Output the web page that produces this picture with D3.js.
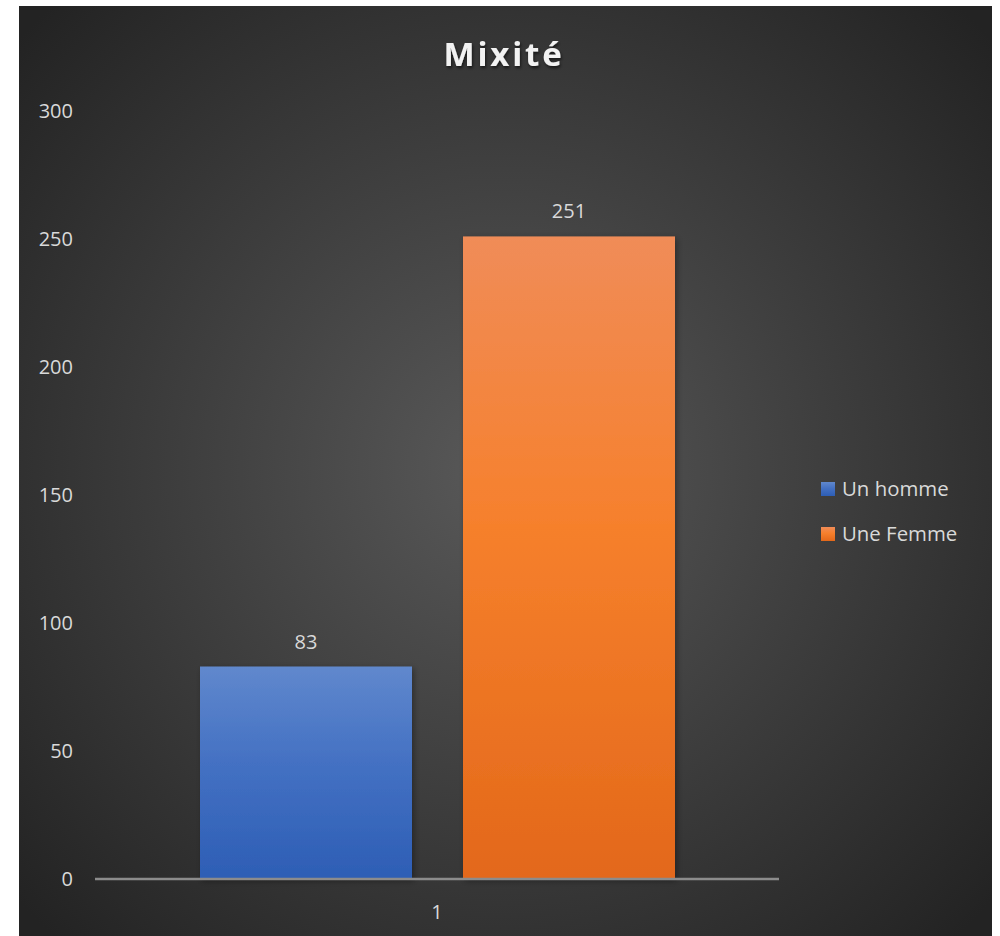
<!DOCTYPE html>
<html><head><meta charset="utf-8">
<script src="https://cdn.jsdelivr.net/npm/d3@7"></script>
<style>html,body{margin:0;padding:0;background:#fff;}svg{display:block;}</style>
</head><body>
<script>
const categories = ["1"];
const seriesNames = ["Un homme", "Une Femme"];
const seriesValues = [83, 251];
const yTicks = [0, 50, 100, 150, 200, 250, 300];
const title = "Mixité";

const W = 1000, H = 936;
const svg = d3.select("body").append("svg").attr("width", W).attr("height", H);
const defs = svg.append("defs");
const rg = defs.append("radialGradient").attr("id","bg").attr("gradientUnits","userSpaceOnUse")
  .attr("cx",505).attr("cy",470).attr("r",650);
rg.append("stop").attr("offset","0").attr("stop-color","#595959");
rg.append("stop").attr("offset","1").attr("stop-color","#232323");
const grads = [["#6088cd","#4471c3","#2d5eb5"],["#f08c58","#f6802c","#e3681a"]];
grads.forEach((g,i)=>{
  const lg = defs.append("linearGradient").attr("id","bar"+i).attr("x1",0).attr("y1",0).attr("x2",0).attr("y2",1);
  lg.append("stop").attr("offset","0").attr("stop-color",g[0]);
  lg.append("stop").attr("offset","0.45").attr("stop-color",g[1]);
  lg.append("stop").attr("offset","1").attr("stop-color",g[2]);
});
const f = defs.append("filter").attr("id","sh").attr("x","-10%").attr("y","-10%").attr("width","130%").attr("height","130%");
f.append("feDropShadow").attr("dx",2).attr("dy",2).attr("stdDeviation",3).attr("flood-color","#000").attr("flood-opacity",0.35);
const tf = defs.append("filter").attr("id","tsh").attr("x","-10%").attr("y","-20%").attr("width","130%").attr("height","160%");
tf.append("feDropShadow").attr("dx",1).attr("dy",2).attr("stdDeviation",1.5).attr("flood-color","#000").attr("flood-opacity",0.6);

svg.append("rect").attr("x",19).attr("y",6).attr("width",973).attr("height",930).attr("fill","url(#bg)");

const font = "'Open Sans', 'Noto Sans', sans-serif";
const y = d3.scaleLinear().domain([0,300]).range([879,111]);
const x0 = d3.scaleBand().domain(categories).range([95,779]);
const x1 = d3.scaleBand().domain(seriesNames).range([200-95, 675-95]).paddingInner(51/263);

// y tick labels
svg.append("g").selectAll("text").data(yTicks).join("text")
  .attr("x",73).attr("y",d=>y(d)).attr("dy","0.35em").attr("text-anchor","end")
  .attr("font-family",font).attr("font-size",20).attr("fill","#d9d9d9").text(d=>d);

// bars
const g = svg.append("g");
seriesNames.forEach((s,i)=>{
  const bx = x0(categories[0]) + x1(s);
  g.append("rect").attr("x",bx).attr("y",y(seriesValues[i])).attr("width",x1.bandwidth())
    .attr("height",y(0)-y(seriesValues[i])).attr("fill",`url(#bar${i})`).attr("filter","url(#sh)");
  g.append("text").attr("x",bx+x1.bandwidth()/2).attr("y",y(seriesValues[i])-18)
    .attr("text-anchor","middle").attr("font-family",font).attr("font-size",20).attr("fill","#d9d9d9").text(seriesValues[i]);
});

// axis line
svg.append("line").attr("x1",95).attr("x2",779).attr("y1",y(0)).attr("y2",y(0))
  .attr("stroke","#8c8c8c").attr("stroke-width",2.5);
// category label
svg.append("g").selectAll("text").data(categories).join("text")
  .attr("x",d=>x0(d)+x0.bandwidth()/2).attr("y",919).attr("text-anchor","middle")
  .attr("font-family",font).attr("font-size",20).attr("fill","#d9d9d9").text(d=>d);

// title
svg.append("text").attr("x",504).attr("y",66).attr("text-anchor","middle")
  .attr("font-family",font).attr("font-weight","bold").attr("font-size",33).attr("letter-spacing",2.8)
  .attr("fill","#f2f2f2").attr("filter","url(#tsh)").text(title);

// legend
const leg = svg.append("g").selectAll("g").data(seriesNames).join("g")
  .attr("transform",(d,i)=>`translate(821,${482+i*45})`);
leg.append("rect").attr("width",14).attr("height",14).attr("fill",(d,i)=>`url(#bar${i})`);
leg.append("text").attr("x",21).attr("y",14).attr("font-family",font).attr("font-size",20.4)
  .attr("fill","#d9d9d9").text(d=>d);
</script>
</body></html>
